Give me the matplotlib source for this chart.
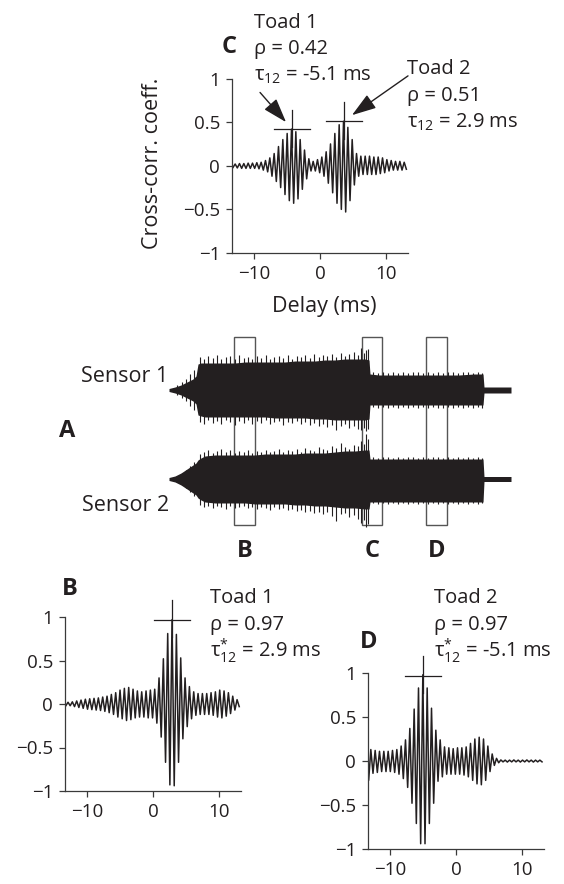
import matplotlib
matplotlib.use('Agg')
import matplotlib.pyplot as plt
import numpy as np
from matplotlib.patches import Rectangle

plt.rcParams['font.family'] = ['Open Sans', 'DejaVu Sans']
plt.rcParams['mathtext.fontset'] = 'custom'
plt.rcParams['mathtext.rm'] = 'Open Sans'
plt.rcParams['mathtext.it'] = 'Open Sans:italic'
plt.rcParams['mathtext.default'] = 'regular'

INK = '#231f20'
AXC = '#3a3a3a'

# ---------------- data: cross-correlograms (extrema of the oscillation) ----------------
HALF_PERIOD = 0.33  # ms between successive extrema

# panel B (toad 1, window B), first extremum at lag -13.27 ms
b_first_lag = -13.27
b_vals = [-0.02, 0.02, -0.02, 0.025, -0.03, 0.035, -0.04, 0.045, -0.05, 0.055,
          -0.06, 0.06, -0.065, 0.065, -0.07, 0.07, -0.075, 0.08, -0.085, 0.09,
          -0.10, 0.11, -0.12, 0.13, -0.15, 0.16, -0.17, 0.18, -0.19, 0.19,
          -0.18, 0.17, -0.16, 0.15, -0.15, 0.14, -0.15, 0.15, -0.16, 0.16,
          -0.16, 0.17, -0.22, 0.30, -0.38, 0.52, -0.67, 0.81, -0.93, 0.97,
          -0.94, 0.80, -0.67, 0.53, -0.40, 0.30, -0.26, 0.20, -0.17, 0.14,
          -0.13, 0.12, -0.12, 0.12, -0.12, 0.12, -0.12, 0.13, -0.13, 0.14,
          -0.15, 0.16, -0.16, 0.15, -0.14, 0.13, -0.11, 0.09, -0.07, 0.05, -0.03]
b_peak = (2.9, 0.97)

# panel C (window C, two toads overlapping)
c_first_lag = -13.25
c_vals = [-0.02, 0.02, -0.025, 0.025, -0.03, 0.025, -0.03, 0.03, -0.03, 0.03,
          -0.03, 0.035, -0.035, 0.04, -0.05, 0.06, -0.07, 0.09, -0.12, 0.14,
          -0.18, 0.22, -0.25, 0.30, -0.33, 0.37, -0.40, 0.42, -0.43, 0.39,
          -0.38, 0.30, -0.27, 0.18, -0.15, 0.08, -0.06, 0.05, -0.06, 0.07,
          -0.08, 0.10, -0.12, 0.16, -0.20, 0.25, -0.31, 0.37, -0.43, 0.47,
          -0.50, 0.51, -0.53, 0.44, -0.40, 0.30, -0.22, 0.14, -0.12, 0.11,
          -0.10, 0.11, -0.10, 0.11, -0.10, 0.10, -0.10, 0.10, -0.09, 0.09,
          -0.08, 0.07, -0.06, 0.06, -0.05, 0.05, -0.05, 0.05, -0.05, 0.04, -0.04]
c_peaks_lag = [-4.26, 3.58]
c_peaks_rho = [0.42, 0.51]

# panel D (toad 2, window D)
d_first_lag = -13.63
d_vals = [0.20, -0.22, 0.13, -0.14, 0.12, -0.13, 0.11, -0.12, 0.11, -0.12,
          0.11, -0.12, 0.12, -0.13, 0.13, -0.15, 0.17, -0.20, 0.24, -0.30,
          0.37, -0.48, 0.59, -0.71, 0.83, -0.94, 0.98, -0.94, 0.83, -0.71,
          0.60, -0.48, 0.35, -0.23, 0.24, -0.18, 0.16, -0.15, 0.15, -0.15,
          0.14, -0.15, 0.15, -0.15, 0.15, -0.16, 0.16, -0.18, 0.20, -0.22,
          0.25, -0.26, 0.27, -0.27, 0.25, -0.22, 0.17, -0.12, 0.08, -0.05,
          0.03, -0.02, 0.012, -0.01, 0.01, -0.012, 0.01, -0.01, 0.012, -0.01,
          0.01, -0.012, 0.01, -0.01, 0.012, -0.01, 0.01, -0.012, 0.01, -0.01,
          0.01, -0.01]
d_peak = (-5.05, 0.97)

# ---------------- data: raw recordings (envelope, arbitrary units) ----------------
body_t = [0, 6, 12, 18, 24, 27, 29, 32, 36, 46, 56, 66, 76, 86, 96, 106, 116, 126,
          136, 146, 156, 166, 176, 186, 196, 200, 201, 210, 230, 250, 270, 290, 305,
          314, 315, 316, 342]
s1_up = [1.5, 3, 5, 8, 11, 14, 26, 27, 27, 27, 27, 27, 28, 28, 28, 28, 28, 29, 29, 29,
         30, 30, 31, 31, 31, 30, 16, 15, 15, 15, 15, 15, 16, 16, 3, 3, 3]
s1_lo = [1.5, 3, 5, 8, 11, 14, 25, 26, 27, 27, 27, 27, 27, 27, 27, 28, 28, 28, 28, 29,
         29, 30, 30, 30, 30, 29, 15, 15, 15, 15, 15, 15, 15, 15, 3, 3, 3]
s2_up = [1.5, 3, 6, 10, 14, 16, 19, 21, 23, 24, 24, 24, 24, 24, 25, 25, 25, 25, 26, 26,
         26, 27, 28, 28, 29, 29, 20, 20, 20, 20, 20, 20, 20, 20, 2.5, 2.5, 2.5]
s2_lo = [1.5, 3, 6, 10, 14, 16, 19, 21, 23, 24, 24, 24, 24, 25, 25, 25, 25, 26, 26, 27,
         27, 28, 29, 29, 30, 30, 23, 23, 23, 23, 23, 23, 23, 23, 2.5, 2.5, 2.5]

spike_t = [8, 13, 17, 21, 25,
           31, 35, 39, 44, 48, 52, 57, 61, 66, 70, 75, 79, 83, 88, 92, 97, 101, 105, 110, 114,
           119, 123, 128, 132, 136, 141, 145, 150, 154, 158, 163, 167, 172, 176, 180, 185, 189,
           192, 195, 197, 199,
           204, 209, 214, 219, 224, 229, 234, 239, 244, 249, 254, 259, 264, 269, 274, 279, 284,
           289, 294, 299, 304, 309, 313]
s1_spk_up = [5, 8, 11, 16, 20,
             33, 31, 34, 32, 35, 31, 33, 34, 31, 35, 32, 33, 31, 34, 32, 35, 31, 33, 34, 32,
             35, 31, 34, 33, 35, 32, 36, 33, 35, 34, 36, 33, 37, 34, 36, 38, 35, 42, 37, 40, 41,
             18, 17, 18, 17, 18, 17, 18, 17, 18, 18, 17, 18, 17, 18, 17, 18, 18, 17, 18, 18,
             17, 18, 17]
s1_spk_lo = [5, 8, 11, 16, 20,
             32, 34, 30, 33, 31, 34, 30, 32, 35, 31, 33, 30, 34, 31, 33, 30, 34, 32, 31, 35,
             32, 33, 31, 34, 32, 35, 33, 36, 34, 37, 35, 40, 36, 34, 38, 36, 39, 40, 38, 41, 39,
             17, 18, 17, 18, 17, 18, 17, 18, 17, 18, 17, 18, 17, 18, 18, 17, 18, 17, 18, 17,
             18, 17, 18]
s2_spk_up = [3, 6, 9, 13, 17,
             25, 27, 29, 26, 28, 30, 27, 29, 26, 28, 27, 29, 26, 28, 27, 29, 27, 28, 30, 27,
             29, 28, 30, 27, 31, 29, 28, 32, 30, 29, 33, 31, 36, 32, 30, 34, 33, 38, 35, 45, 40,
             22, 21, 22, 22, 21, 22, 21, 22, 22, 21, 22, 21, 22, 22, 21, 22, 21, 22, 21, 22,
             21, 22, 21]
s2_spk_lo = [3, 6, 9, 13, 17,
             26, 28, 27, 29, 27, 28, 30, 27, 29, 28, 27, 29, 28, 30, 28, 29, 31, 28, 30, 29,
             31, 30, 32, 31, 33, 32, 34, 33, 35, 33, 37, 42, 35, 34, 38, 36, 40, 44, 41, 48, 45,
             24, 25, 24, 25, 24, 25, 24, 25, 24, 25, 24, 25, 24, 25, 24, 25, 24, 25, 24, 25,
             24, 25, 24]

windows = [(65, 86), (192.5, 213), (256.5, 278)]
window_labels = ['B', 'C', 'D']

# ---------------- figure ----------------
W, H = 564, 884
fig = plt.figure(figsize=(W / 100, H / 100), dpi=100)

TXT = 14.5   # annotation text size
TCK = 13.5   # tick label size


def rect(l, t, r, b):
    return [l / W, 1 - b / H, (r - l) / W, (b - t) / H]


def ftext(x, y, s, **kw):
    kw.setdefault('va', 'baseline')
    kw.setdefault('color', INK)
    return fig.text(x / W, 1 - y / H, s, **kw)


def style_xcorr(ax):
    ax.set_xlim(-13.4, 13.4)
    ax.set_ylim(-1, 1)
    for s in ['top', 'right']:
        ax.spines[s].set_visible(False)
    for s in ['left', 'bottom']:
        ax.spines[s].set_color(AXC)
        ax.spines[s].set_linewidth(0.9)
    ax.set_xticks([-10, 0, 10])
    ax.set_xticklabels(['\u221210', '0', '10'])
    ax.set_yticks([-1, -0.5, 0, 0.5, 1])
    ax.set_yticklabels(['\u22121', '\u22120.5', '0', '0.5', '1'])
    ax.tick_params(direction='out', length=4.5, width=0.9, color=AXC,
                   labelcolor=INK, labelsize=TCK)
    ax.tick_params(axis='x', pad=4)
    ax.tick_params(axis='y', pad=4)
    ax.patch.set_alpha(0)


def crosshair(ax, lag, rho):
    ax.plot([lag - 2.74, lag + 2.74], [rho, rho], color=INK, lw=0.9, clip_on=False, zorder=4)
    ax.plot([lag, lag], [rho - 0.2, rho + 0.22], color=INK, lw=0.9, clip_on=False, zorder=4)


def lags_for(first, vals):
    return first + HALF_PERIOD * np.arange(len(vals))


# Panel C
axC = fig.add_axes(rect(232, 78.5, 408, 253))
style_xcorr(axC)
axC.plot(lags_for(c_first_lag, c_vals), c_vals, color=INK, lw=1.1)
for lg, rh in zip(c_peaks_lag, c_peaks_rho):
    crosshair(axC, lg, rh)
axC.set_ylabel('Cross-corr. coeff.', fontsize=15.5, color=INK, va='center')
axC.yaxis.set_label_coords(-0.449, 0.516)
axC.set_xlabel('Delay (ms)', fontsize=15.5, color=INK, va='baseline')
axC.xaxis.set_label_coords(0.523, -0.338)
arrow = dict(arrowstyle='-|>,head_length=1.0,head_width=0.33', color=INK, lw=1.0,
             shrinkA=0, shrinkB=0, mutation_scale=15)
axC.annotate('', xy=(-5.17, 0.50), xytext=(-9.13, 0.84), arrowprops=arrow,
             annotation_clip=False)
axC.annotate('', xy=(4.87, 0.58), xytext=(13.4, 1.03), arrowprops=arrow,
             annotation_clip=False)

ftext(229, 53, 'C', fontsize=17, fontweight='bold', ha='center')
ftext(254, 27.5, 'Toad 1', fontsize=TXT)
ftext(254, 54, '\u03c1 = 0.42', fontsize=TXT)
ftext(254, 81, '\u03c4$_{12}$ = -5.1 ms', fontsize=TXT)
ftext(407, 74, 'Toad 2', fontsize=TXT)
ftext(407, 101, '\u03c1 = 0.51', fontsize=TXT)
ftext(407, 128, '\u03c4$_{12}$ = 2.9 ms', fontsize=TXT)

# Panel A
axA = fig.add_axes(rect(160, 330, 520, 535))
axA.set_xlim(-9, 351)
axA.set_ylim(-105, 100)
axA.axis('off')
offsets = [40, -49]
for (off, up, lo, su, sl) in [(offsets[0], s1_up, s1_lo, s1_spk_up, s1_spk_lo),
                              (offsets[1], s2_up, s2_lo, s2_spk_up, s2_spk_lo)]:
    axA.fill_between(body_t, off + np.array(up), off - np.array(lo), color=INK, lw=0, zorder=2)
    axA.vlines(spike_t, off - np.array(sl), off + np.array(su), color=INK, lw=0.8, zorder=2)
for (t0, t1), lab in zip(windows, window_labels):
    axA.add_patch(Rectangle((t0, -95), t1 - t0, 188, fill=False, ec='#555555', lw=1.0,
                            zorder=1))
    axA.text((t0 + t1) / 2, -127, lab, ha='center', va='baseline', fontsize=17,
             fontweight='bold', color=INK, clip_on=False)
ftext(168, 382, 'Sensor 1', fontsize=15.5, ha='right')
ftext(169, 511, 'Sensor 2', fontsize=15.5, ha='right')
ftext(59, 437, 'A', fontsize=17, fontweight='bold')

# Panel B
axB = fig.add_axes(rect(65, 617, 241, 791))
style_xcorr(axB)
axB.plot(lags_for(b_first_lag, b_vals), b_vals, color=INK, lw=1.1)
crosshair(axB, *b_peak)
ftext(62, 595, 'B', fontsize=17, fontweight='bold')
ftext(210, 603, 'Toad 1', fontsize=TXT)
ftext(210, 630, '\u03c1 = 0.97', fontsize=TXT)
ftext(210, 657, r'$\tau^{*}_{12}$ = 2.9 ms', fontsize=TXT)

# Panel D
axD = fig.add_axes(rect(368, 673, 544, 849))
style_xcorr(axD)
axD.plot(lags_for(d_first_lag, d_vals), d_vals, color=INK, lw=1.1)
crosshair(axD, *d_peak)
ftext(360, 648, 'D', fontsize=17, fontweight='bold')
ftext(434, 603, 'Toad 2', fontsize=TXT)
ftext(434, 630, '\u03c1 = 0.97', fontsize=TXT)
ftext(434, 657, r'$\tau^{*}_{12}$ = -5.1 ms', fontsize=TXT)

fig.savefig('out.png', dpi=100)
